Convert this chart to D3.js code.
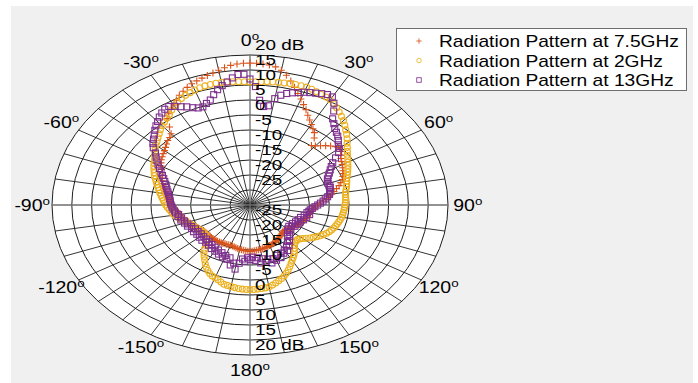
<!DOCTYPE html>
<html>
<head>
<meta charset="utf-8">
<script src="https://cdn.jsdelivr.net/npm/d3@7"></script>
<style>
body { margin: 0; background: #fff; }
text { font-family: "Liberation Sans", Arial, sans-serif; fill: #000; }
</style>
</head>
<body>
<script>
"use strict";
// angle in degrees, clockwise from the top, every 2 degrees (0..358)
const angles = d3.range(0, 360, 2);
const pattern75 = [
 17.3,17.3,17.1,16.9,16.5,15.6,14.2,12.6,10.8,9.1,7.6,6.1,4.8,3.3,2.1,1.0,0.0,-0.9,-2.4,-4.8,
 -4.3,-3.4,-2.5,-1.7,-0.9,-0.4,-1.0,-1.7,-2.3,-2.7,-3.1,-3.5,-3.9,-4.3,-4.7,-5.2,-5.9,-6.6,-7.5,-8.3,
 -9.0,-9.8,-10.6,-11.4,-12.3,-13.1,-13.6,-13.9,-14.1,-14.3,-14.5,-14.7,-14.9,-15.1,-15.3,-15.5,-15.7,-15.9,-16.1,-16.3,
 -16.5,-16.7,-16.9,-17.1,-17.3,-17.5,-17.7,-17.9,-18.0,-17.8,-17.5,-17.3,-17.1,-16.8,-16.6,-16.5,-16.3,-16.1,-15.9,-15.7,
 -15.6,-15.4,-15.3,-15.2,-15.1,-15.0,-14.9,-14.8,-14.7,-14.6,-14.5,
 -14.6,-14.7,-14.8,-14.9,-15.0,-15.2,-15.3,-15.5,-15.6,-15.7,-15.7,-15.6,-15.6,-15.5,-15.5,-15.5,-15.4,-15.4,-15.4,-15.4,
 -15.4,-15.5,-15.5,-15.5,-15.5,-15.5,-15.5,-15.3,-15.0,-14.8,-14.5,-14.3,-14.0,-13.8,-13.5,-13.2,-12.8,-12.5,-12.1,-11.9,
 -11.7,-11.5,-11.1,-10.7,-10.3,-9.9,-9.5,-9.2,-9.0,-8.7,-8.2,-7.7,-7.2,-6.8,-6.4,-6.1,-5.8,-5.3,-4.7,-4.1,
 -3.5,-3.0,-2.6,-2.2,-1.8,-1.3,-0.7,-0.1,0.3,1.0,3.0,5.6,6.7,7.6,8.5,9.6,10.7,11.5,12.3,13.0,
 13.5,14.0,14.5,15.0,15.6,16.2,16.8,17.1,17.3
];
const pattern2 = [
 11.0,11.1,11.2,11.3,11.4,11.5,11.6,11.7,11.8,11.8,11.8,11.6,11.3,11.0,10.8,10.5,9.8,9.1,8.3,7.5,
 6.7,5.8,4.8,3.9,3.0,2.0,1.2,0.4,-0.3,-0.9,-1.5,-2.0,-2.5,-3.0,-3.5,-4.0,-4.3,-4.6,-4.9,-5.2,
 -5.5,-5.6,-5.7,-5.8,-5.9,-6.0,-6.1,-6.2,-6.3,-6.4,-6.5,-6.7,-6.9,-7.1,-7.3,-7.5,-7.8,-8.1,-8.5,-9.0,
 -9.5,-10.1,-10.7,-11.3,-12.0,-12.6,-13.1,-13.4,-13.3,-13.0,-12.5,-11.7,-10.9,-10.1,-9.4,-8.7,-7.9,-7.1,-6.3,-5.5,
 -4.8,-4.2,-3.7,-3.2,-2.7,-2.3,-2.1,-2.0,-1.9,-1.8,-1.8,
 -1.8,-1.9,-2.0,-2.2,-2.4,-2.6,-2.8,-3.3,-3.8,-4.2,-4.5,-5.0,-5.7,-6.5,-7.4,-8.4,-9.3,-10.2,-11.3,-12.5,
 -13.5,-14.3,-14.8,-15.0,-15.1,-15.1,-15.0,-14.9,-14.7,-14.5,-14.3,-14.1,-13.8,-13.4,-13.0,-12.6,-12.1,-11.6,-11.1,-10.6,
 -10.2,-9.9,-9.5,-9.1,-8.7,-8.4,-8.1,-7.7,-7.3,-6.9,-6.5,-6.1,-5.6,-5.1,-4.6,-4.0,-3.5,-3.0,-2.5,-2.0,
 -1.6,-1.0,-0.3,0.4,1.0,1.6,2.3,3.0,3.8,4.5,5.1,5.7,6.4,7.3,8.2,8.9,9.5,10.0,10.4,10.8,
 11.1,11.3,11.4,11.5,11.5,11.4,11.3,11.2,11.1
];
const pattern13 = [
 12.0,9.5,5.0,3.0,3.4,6.0,7.4,8.3,8.9,9.4,10.0,10.4,10.8,11.3,11.7,11.6,10.0,7.8,5.5,4.4,
 3.3,2.6,1.9,1.0,0.0,-0.6,-1.6,-3.3,-4.8,-5.8,-6.6,-7.3,-8.0,-8.6,-8.9,-9.0,-8.8,-8.9,-9.2,-9.4,
 -9.6,-10.2,-10.9,-11.5,-12.2,-12.9,-13.6,-14.2,-14.7,-15.0,-15.4,-14.6,-15.9,-15.1,-16.6,-15.6,-16.9,-16.1,-17.2,-16.3,
 -17.6,-16.6,-17.4,-17.9,-16.9,-17.6,-16.5,-16.9,-15.5,-15.9,-14.5,-14.6,-13.2,-13.5,-12.1,-12.7,-11.8,-12.2,-10.8,-11.9,
 -10.4,-11.2,-9.9,-11.4,-10.6,-11.8,-10.5,-12.3,-11.5,-12.6,-11.8,
 -12.4,-11.2,-11.9,-10.4,-8.3,-10.2,-9.4,-11.7,-11.0,-12.1,-11.4,-12.6,-11.8,-13.0,-12.2,-13.4,-12.5,-13.7,-13.0,-14.0,
 -13.3,-14.2,-13.1,-14.3,-13.3,-14.4,-13.4,-14.2,-13.2,-14.1,-13.3,-13.6,-12.7,-13.1,-12.4,-12.6,-11.8,-12.2,-11.4,-11.7,
 -11.0,-10.8,-10.5,-10.3,-10.1,-9.9,-9.8,-9.6,-9.4,-9.1,-8.8,-8.4,-8.0,-7.6,-7.1,-6.5,-5.8,-5.0,-4.1,-3.2,
 -2.3,-1.4,-0.5,1.0,2.0,2.8,3.6,4.6,5.5,6.3,7.2,7.9,8.5,8.7,8.0,7.1,6.4,5.5,4.9,4.8,
 5.6,6.4,7.9,9.3,10.4,11.4,12.6,13.6,13.6
];
const seriesNames = ["Radiation Pattern at 7.5GHz", "Radiation Pattern at 2GHz", "Radiation Pattern at 13GHz"];
const seriesColors = ["#D95319", "#EDB120", "#7E2F8E"];
const ringTicks = [-25, -20, -15, -10, -5, 0, 5, 10, 15, 20];
const spokeAngles = d3.range(0, 360, 10);
const angleTicks = [0, 30, 60, 90, 120, 150, 180, 210, 240, 270, 300, 330];
const angleLabels = ["0", "30", "60", "90", "120", "150", "180", "-150", "-120", "-90", "-60", "-30"];

const size = {"width": 698, "height": 383};
const cx = 250, cy = 205, rx = 198, ry = 150;

const rScale = d3.scaleLinear().domain([-30, 20]).range([0, 1]).clamp(true);
const rad = d => d * Math.PI / 180;
const px = (a, v) => cx + rx * rScale(v) * Math.sin(rad(a));
const py = (a, v) => cy - ry * rScale(v) * Math.cos(rad(a));

const svg = d3.select("body")
.append("svg")
.attr("width", size.width)
.attr("height", size.height);

svg.append("rect")
.attr("x", 11).attr("y", 6)
.attr("width", 682).attr("height", 377)
.attr("fill", "#f0f0f0");

// grid
const grid = svg.append("g");
grid.append("ellipse")
.attr("cx", cx).attr("cy", cy)
.attr("rx", rx).attr("ry", ry)
.attr("fill", "#fff");
grid.selectAll("line.spoke")
.data(spokeAngles.filter(a => a % 90 != 0))
.enter()
.append("line")
.attr("class", "spoke")
.attr("x1", cx).attr("y1", cy)
.attr("x2", a => px(a, 20))
.attr("y2", a => py(a, 20))
.attr("stroke", "#1e1e1e")
.attr("stroke-width", 0.9);
grid.selectAll("ellipse.ring")
.data(ringTicks)
.enter()
.append("ellipse")
.attr("class", "ring")
.attr("cx", cx).attr("cy", cy)
.attr("rx", d => rx * rScale(d))
.attr("ry", d => ry * rScale(d))
.attr("fill", "none")
.attr("stroke", "#1e1e1e")
.attr("stroke-width", 1);
grid.selectAll("line.axis")
.data([0, 90])
.enter()
.append("line")
.attr("class", "axis")
.attr("x1", a => px(a + 180, 20)).attr("y1", a => py(a + 180, 20))
.attr("x2", a => px(a, 20)).attr("y2", a => py(a, 20))
.attr("stroke", "#6e6e6e")
.attr("stroke-width", 1.3);

// markers
function drawMarker(g, type, color) {
	if (type == 0) {
		g.append("path").attr("d", "M-3.5,0H3.5M0,-3.5V3.5")
		.attr("stroke", color).attr("stroke-width", 1.1).attr("fill", "none");
	}
	else if (type == 1) {
		g.append("circle").attr("r", 3)
		.attr("stroke", color).attr("stroke-width", 1.1).attr("fill", "none");
	}
	else {
		g.append("rect").attr("x", -3).attr("y", -3).attr("width", 6).attr("height", 6)
		.attr("stroke", color).attr("stroke-width", 1.1).attr("fill", "none");
	}
}
[pattern75, pattern2, pattern13].forEach((values, k) => {
	const layer = svg.append("g");
	layer.selectAll("g")
	.data(values)
	.enter()
	.append("g")
	.attr("transform", (d, i) => "translate(" + px(angles[i], d) + "," + py(angles[i], d) + ")")
	.each(function () { drawMarker(d3.select(this), k, seriesColors[k]); });
});

// labels
function label(x, y, str, fs, sx) {
	return svg.append("text")
	.attr("transform", "translate(" + x + "," + y + ") scale(" + sx + ",1)")
	.attr("font-size", fs)
	.text(str);
}
ringTicks.forEach(v => {
	const s = v == 20 ? "20 dB" : String(v);
	label(cx + 5, cy - ry * rScale(v) - 5.5, s, 14.5, 1.3);
	label(cx + 5, cy + ry * rScale(v) - 5.5, s, 14.5, 1.3);
});
angleTicks.forEach((a, i) => {
	const x = cx + 1.1 * rx * Math.sin(rad(a));
	const y = cy - 1.1 * ry * Math.cos(rad(a)) + 5.5;
	const t = svg.append("text")
	.attr("transform", "translate(" + x + "," + y + ") scale(1.22,1)")
	.attr("text-anchor", "middle")
	.attr("font-size", 16);
	t.append("tspan").text(angleLabels[i]);
	t.append("tspan").attr("font-size", 11).attr("dy", -6).text("o");
});

// legend
const legend = svg.append("g");
legend.append("rect")
.attr("x", 396.5).attr("y", 28.5)
.attr("width", 290).attr("height", 62)
.attr("fill", "#fff")
.attr("stroke", "#6e6e6e")
.attr("stroke-width", 1);
seriesNames.forEach((name, k) => {
	const y = 41 + k * 19.5;
	const g = legend.append("g").attr("transform", "translate(419," + y + ") scale(0.75)");
	drawMarker(g, k, seriesColors[k]);
	legend.append("text")
	.attr("transform", "translate(439," + (y + 6) + ") scale(1.2,1)")
	.attr("font-size", 16)
	.text(name);
});
</script>
</body>
</html>
